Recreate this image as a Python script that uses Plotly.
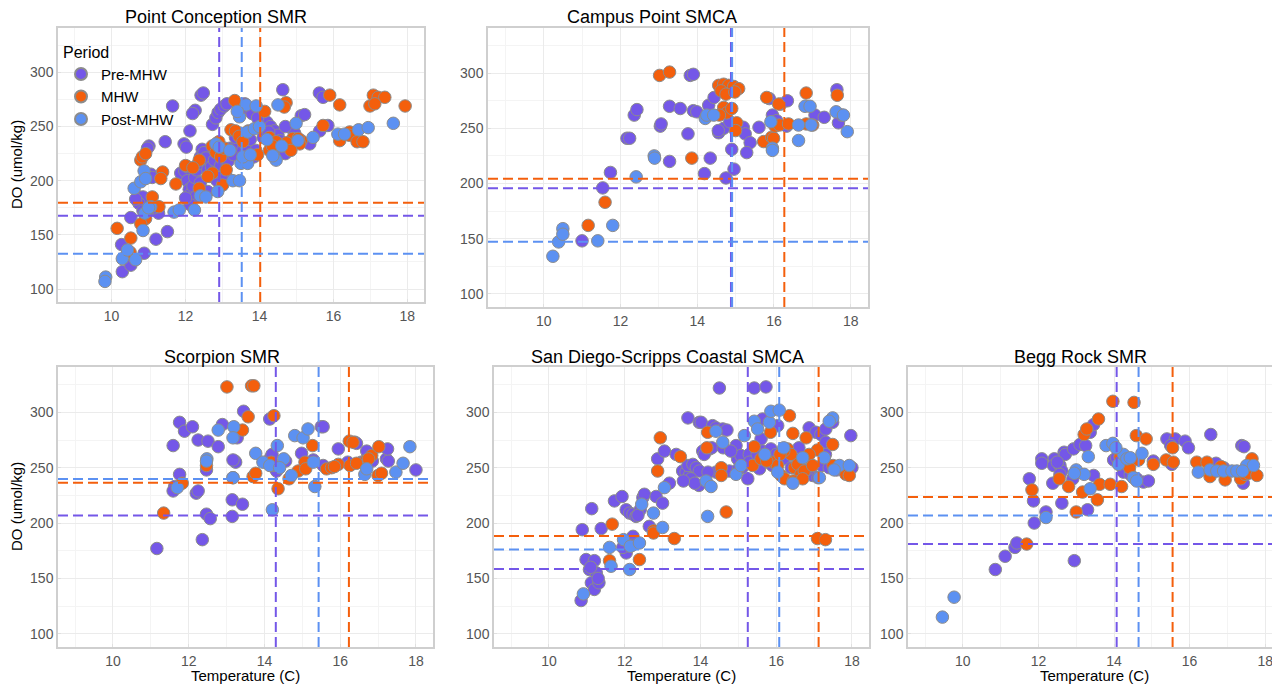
import plotly.graph_objects as go

# ---------------- data ----------------
SITES = ["Point Conception SMR", "Campus Point SMCA", "Scorpion SMR",
         "San Diego-Scripps Coastal SMCA", "Begg Rock SMR"]
PERIODS = ["Pre-MHW", "MHW", "Post-MHW"]
X_TICKS = [10, 12, 14, 16, 18]
Y_TICKS = [100, 150, 200, 250, 300]

PC_PRE_T = [11.65,12.42,12.48,12.26,12.19,12.12,11.45,11.01,10.97,12.73,
            12.82,12.88,12.95,13.05,13.12,11.96,12.02,11.87,11.98,12.05,
            12.10,12.15,12.20,12.25,12.30,12.35,12.40,12.45,12.50,12.55,
            12.60,12.65,12.70,12.78,12.85,12.90,12.95,13.00,13.08,13.15,
            13.20,13.30,13.40,13.55,13.65,13.75,13.85,12.28,12.12,12.00,
            14.63,15.62,15.72,15.85,15.13,15.22,15.36,15.63,14.20,14.30,
            14.40,14.50,14.60,14.70,14.80,14.88,14.95,11.06,10.74,10.85,
            10.52,11.20,11.51,10.27,10.29,10.52,10.88,11.27,10.74,10.85,
            11.10,13.60,13.70,13.80,13.95,14.10,14.55,13.35,13.45,12.40,
            12.60,13.00,13.10,14.40,11.15,10.95,10.65,12.05,14.25,14.70,
            13.90]
PC_PRE_DO = [269,279,281,265,262,246,236,232,230,252,
             258,263,266,269,271,234,231,207,209,200,
             192,188,195,203,210,216,222,229,226,221,
             210,204,213,219,200,208,214,220,225,218,
             230,224,234,228,232,238,222,185,178,184,
             284,281,277,251,260,261,234,246,254,250,
             246,242,226,225,232,248,244,206,185,185,
             166,146,153,141,116,122,133,170,179,172,
             203,271,266,262,258,240,237,240,244,198,
             190,196,204,222,175,170,183,213,245,250,
             228]
PC_MHW_T = [13.33,14.72,14.67,14.14,15.90,16.17,17.08,17.21,17.39,16.99,
            17.12,17.94,15.72,16.44,16.43,16.17,16.64,16.80,15.13,15.09,
            14.90,14.73,14.27,14.27,13.95,13.23,13.35,13.45,12.72,12.82,
            12.95,13.05,12.37,12.73,13.10,13.00,12.37,12.00,11.74,10.79,
            10.83,10.92,11.38,11.33,11.10,11.28,10.92,10.79,10.15,10.52,
            10.50,12.60,12.20,13.55,14.45,14.85,15.05,12.90,13.70,14.35]
PC_MHW_DO = [274,272,268,264,279,270,279,277,277,269,
             271,269,251,245,242,237,236,236,237,234,
             239,235,228,240,224,247,246,241,232,226,
             222,230,219,207,210,196,193,214,197,219,
             222,225,208,202,185,176,165,160,156,147,
             134,204,212,236,236,228,239,236,246,232]
PC_POST_T = [9.84,9.82,10.29,10.43,10.65,10.85,10.61,10.79,10.88,10.92,
             10.90,11.06,11.69,11.83,12.24,12.40,12.55,12.87,13.28,13.46,
             13.50,13.68,13.64,13.46,13.91,13.68,13.86,14.50,14.45,14.36,
             14.99,15.04,15.45,16.12,16.30,16.68,16.94,17.62,12.82,12.91,
             13.20,13.55,14.00,14.20,13.40,11.00,13.75,14.60]
PC_POST_DO = [111,107,128,136,127,154,193,199,209,202,
              170,176,171,173,173,186,185,190,200,200,
              216,216,270,259,269,245,248,270,219,223,
              253,237,240,243,243,247,249,253,234,231,
              228,222,250,238,264,175,224,232]

CP_PRE_T = [13.82,13.90,12.36,12.43,12.17,12.24,11.54,11.74,11.00,13.04,
            13.06,13.28,13.28,13.56,13.76,13.90,13.99,14.19,14.34,14.30,
            14.44,14.56,14.69,14.75,14.90,14.96,15.20,15.25,15.38,15.29,
            15.61,15.88,15.96,16.07,16.18,16.35,16.33,17.07,17.31,17.64,
            17.68,17.77,14.85,14.55]
CP_PRE_DO = [298,299,262,267,241,241,196,210,148,252,
             254,270,220,268,245,266,265,209,223,271,
             278,246,250,205,231,213,251,245,237,228,
             251,277,262,257,272,275,252,262,260,285,
             255,262,256,248]
CP_MHW_T = [13.02,13.28,13.86,11.60,11.16,14.56,14.69,14.82,14.95,15.08,
            14.62,14.75,14.98,14.69,14.77,14.90,14.58,15.03,15.00,15.73,
            15.94,15.99,15.81,16.12,16.03,16.14,16.38,16.84,16.84,17.01,
            17.65]
CP_MHW_DO = [298,301,223,183,162,289,290,289,288,286,
             284,281,283,269,264,268,262,255,248,238,
             242,241,278,272,252,253,254,282,254,253,
             280]
CP_POST_T = [10.24,10.39,10.50,10.50,11.41,11.80,12.41,12.88,12.89,14.21,
             14.25,14.43,15.92,15.96,15.96,16.64,16.64,16.81,16.94,16.97,
             17.62,17.81,17.91]
CP_POST_DO = [134,147,159,154,148,162,206,225,223,259,
              262,262,256,232,230,253,239,270,270,253,
              265,262,247]

SC_PRE_T = [11.16,12.36,12.47,12.57,11.76,11.89,12.10,11.59,12.25,12.51,
            12.78,12.89,11.76,11.63,11.59,12.20,12.25,13.15,13.15,13.42,
            13.17,13.22,13.24,13.28,13.45,14.14,14.16,14.27,14.32,14.56,
            14.98,15.50,15.55,15.29,15.95,16.20,16.39,16.43,16.70,16.56,
            16.85,17.22,17.27,17.25,18.00,14.20,14.22,12.47,13.17,15.55,
            16.65]
SC_PRE_DO = [177,185,208,204,291,283,287,270,275,274,
             269,289,244,233,229,227,229,221,206,217,
             241,256,255,277,301,294,259,250,247,256,
             263,287,287,257,267,255,273,272,265,255,
             256,258,256,267,248,262,252,248,257,252,
             256]
SC_MHW_T = [13.01,13.66,13.72,13.57,13.42,14.25,11.34,11.83,12.47,13.70,
            13.77,14.36,14.18,14.65,14.89,15.07,15.09,15.27,15.64,15.77,
            15.95,16.24,16.34,16.70,16.83,17.00,17.09,17.02,16.26,16.43,
            15.85,16.75]
SC_MHW_DO = [323,324,324,296,284,297,209,236,252,242,
             245,231,255,240,247,255,249,270,249,250,
             253,274,273,257,261,243,245,269,252,254,
             251,258]
SC_POST_T = [12.78,13.19,13.17,12.48,12.47,13.77,14.21,14.34,13.96,14.14,
             14.80,15.02,15.15,15.33,14.71,16.65,16.70,17.47,17.66,17.84,
             14.51,15.29,11.70,13.17,14.40]
SC_POST_DO = [284,287,277,258,256,263,212,270,255,252,
              279,277,285,233,243,244,249,246,254,269,
              258,255,232,241,250]

SD_PRE_T = [10.85,10.88,11.13,10.98,11.07,11.20,11.25,11.12,11.20,11.32,
            11.38,11.73,11.93,12.04,12.13,12.22,12.04,12.22,12.30,12.41,
            12.48,12.52,12.65,12.83,13.00,12.87,13.05,13.18,13.36,13.53,
            13.62,13.71,13.67,13.67,13.97,14.02,13.80,13.89,13.97,13.96,
            14.06,14.24,14.32,14.50,14.41,14.59,14.70,14.41,14.59,14.76,
            14.94,14.98,15.07,15.42,15.73,15.25,15.29,15.42,15.56,15.60,
            15.64,15.78,15.86,16.04,15.64,16.87,17.05,17.18,17.31,17.49,
            16.96,17.10,17.31,17.97,18.00,14.10,14.30,14.60,14.80,15.10,
            15.30,15.50,15.70,15.90,16.20,16.40,16.60,16.80,17.20,17.40,
            17.60,17.80,13.75,13.85,13.55,14.20,15.00,16.00,16.60,17.30,
            11.10,11.30,12.20,12.35,11.95]
SD_PRE_DO = [130,194,213,167,158,166,155,146,140,146,
             195,220,224,212,209,208,173,188,206,212,
             223,226,197,224,218,258,265,236,262,247,
             246,243,252,295,291,291,253,250,247,234,
             265,267,288,322,286,285,284,246,248,247,
             270,258,261,322,323,240,262,255,249,276,
             265,255,267,288,294,286,282,280,285,291,
             243,241,273,279,250,262,268,268,265,250,
             255,262,258,252,258,250,256,248,252,250,
             248,247,240,236,238,246,249,262,268,262,
             160,150,180,207,178]
SD_MHW_T = [11.67,11.60,12.39,12.94,12.87,12.76,12.76,13.31,13.47,14.19,
            14.17,14.68,14.55,14.55,15.42,15.85,16.35,16.44,16.79,17.09,
            17.49,17.09,17.30,15.91,16.04,16.13,16.22,16.30,16.39,16.48,
            16.57,16.65,16.74,16.87,16.96,17.84,17.93,15.38,16.20,16.45,
            15.60,17.50,16.10,16.70,15.75]
SD_MHW_DO = [199,166,167,277,247,193,191,186,260,282,
             268,210,250,243,269,282,297,281,277,266,
             271,186,185,255,252,243,240,267,262,250,
             253,244,247,262,252,244,243,252,265,238,
             258,252,262,240,256]
SD_POST_T = [10.91,11.60,11.64,11.97,12.13,12.15,12.39,12.45,12.76,13.00,
             13.05,14.19,14.15,14.28,14.41,14.59,14.94,15.07,15.16,15.42,
             15.51,15.82,15.86,16.08,16.04,16.44,16.70,17.14,17.27,17.49,
             17.40,17.67,17.93,17.53,15.70,16.20]
SD_POST_DO = [136,178,161,185,158,179,182,217,209,196,
              232,206,238,233,283,273,244,252,279,292,
              285,291,301,302,246,236,259,241,259,295,
              292,252,252,248,262,268]

BR_PRE_T = [10.86,11.12,11.38,11.43,11.76,11.89,11.87,12.09,12.09,12.38,
            12.42,12.40,12.57,12.62,12.57,12.68,12.71,12.62,12.91,12.93,
            12.95,13.10,13.37,13.46,13.30,13.46,13.99,14.07,14.25,14.43,
            14.60,14.78,14.91,15.04,15.40,15.53,15.62,15.88,15.97,16.56,
            16.70,16.90,17.38,17.44,17.42,12.20,13.25,12.50,15.50]
BR_PRE_DO = [158,170,178,182,240,200,220,258,254,236,
             258,252,252,247,244,264,262,218,240,267,
             166,271,282,289,212,243,257,259,246,244,
             240,237,238,256,276,253,276,274,268,280,
             254,250,270,269,236,210,270,255,270]
BR_MHW_T = [11.69,11.83,12.80,13.00,13.17,13.21,13.28,13.59,13.56,13.62,
            13.90,13.97,14.16,14.20,14.41,14.53,14.59,14.65,14.85,15.04,
            15.38,15.57,16.19,16.46,16.54,16.94,16.83,17.35,17.47,17.56,
            17.65,17.78,12.55,15.55]
BR_MHW_DO = [181,230,233,210,228,280,285,294,221,235,
             235,310,260,233,250,309,279,257,276,253,
             257,255,255,255,242,239,251,240,244,245,
             258,243,240,268]
BR_POST_T = [9.46,9.77,12.20,13.00,13.21,13.32,13.37,13.79,13.97,14.12,
             14.25,14.34,14.43,14.51,14.74,16.23,16.54,16.72,16.90,17.12,
             17.25,17.51,17.69,12.95,14.05,14.60,17.40]
BR_POST_DO = [115,133,205,248,244,260,231,270,272,253,
              262,258,259,241,263,246,248,247,247,247,
              247,252,252,245,268,238,247]

# thresholds per site (same order as SITES)
TEMP_THRESH_PRE = [12.91, 14.88, 14.30, 15.25, 14.07]
TEMP_THRESH_MHW = [14.02, 16.27, 16.23, 17.12, 15.55]
TEMP_THRESH_POST = [13.52, 14.91, 15.43, 16.08, 14.65]
DO_THRESH_PRE = [167.7, 195.6, 206.9, 158.4, 181.0]
DO_THRESH_MHW = [179.7, 204.4, 236.4, 188.3, 223.5]
DO_THRESH_POST = [132.6, 147.2, 239.8, 176.0, 206.9]

# ---------------- styling ----------------
COLORS = {"Pre-MHW": "#7457E8", "MHW": "#F45F0C", "Post-MHW": "#5C91F2"}
FONT = "Liberation Sans, Arial, sans-serif"
W, H = 1280, 688
OFF = 8  # page body margin; positions below are given in page pixels


def px(x):
    return (x - OFF) / W


def py(y):
    return 1 - (y - OFF) / H


series = [
    [(PC_PRE_T, PC_PRE_DO), (PC_MHW_T, PC_MHW_DO), (PC_POST_T, PC_POST_DO)],
    [(CP_PRE_T, CP_PRE_DO), (CP_MHW_T, CP_MHW_DO), (CP_POST_T, CP_POST_DO)],
    [(SC_PRE_T, SC_PRE_DO), (SC_MHW_T, SC_MHW_DO), (SC_POST_T, SC_POST_DO)],
    [(SD_PRE_T, SD_PRE_DO), (SD_MHW_T, SD_MHW_DO), (SD_POST_T, SD_POST_DO)],
    [(BR_PRE_T, BR_PRE_DO), (BR_MHW_T, BR_MHW_DO), (BR_POST_T, BR_POST_DO)],
]
temp_th = [TEMP_THRESH_PRE, TEMP_THRESH_MHW, TEMP_THRESH_POST]
do_th = [DO_THRESH_PRE, DO_THRESH_MHW, DO_THRESH_POST]

# panel boxes in page pixels: (left, right, top, bottom)
boxes = [(58, 424, 28, 302), (488, 868, 28, 307),
         (58, 433, 367, 647), (494, 869, 367, 647), (908, 1288, 367, 647)]
title_pos = [(216, 17), (652, 17), (222, 357), (667, 357), (1080, 357)]

fig = go.Figure()
layout = dict(width=W, height=H, margin=dict(l=0, r=0, t=0, b=0),
              paper_bgcolor="white", plot_bgcolor="white",
              font=dict(family=FONT), showlegend=True)

ann = []
for i, (l, r, t, b) in enumerate(boxes):
    n = "" if i == 0 else str(i + 1)
    r_eff = min(r, W + OFF)
    xr = [8.55, 8.55 + (r_eff - l) / 37.8] if i == 4 else [8.55, 18.45]
    common = dict(showgrid=True, gridcolor="#EBEBEB", gridwidth=1,
                  showline=True, linecolor="#CFCFCF", linewidth=1.5, mirror=True,
                  ticks="inside", ticklen=3, tickcolor="#E0E0E0",
                  tickfont=dict(size=14, color="#555555", family=FONT),
                  zeroline=False, automargin=False)
    layout["xaxis" + n] = dict(
        domain=[px(l), min(px(r_eff), 1.0)], anchor="y" + n, range=xr,
        tickvals=X_TICKS,
        minor=dict(tickvals=[9, 11, 13, 15, 17], showgrid=True,
                   gridcolor="#F4F4F4", gridwidth=1),
        **common)
    layout["yaxis" + n] = dict(
        domain=[py(b), py(t)], anchor="x" + n, range=[88, 341],
        tickvals=Y_TICKS,
        minor=dict(tickvals=[125, 175, 225, 275, 325], showgrid=True,
                   gridcolor="#F4F4F4", gridwidth=1),
        **common)

    for j, period in enumerate(PERIODS):
        tx, dy = series[i][j]
        fig.add_trace(go.Scatter(
            x=tx, y=dy, mode="markers", name=period,
            legendgroup=period, showlegend=(i == 0),
            xaxis="x" + n, yaxis="y" + n,
            marker=dict(size=12.5, color=COLORS[period],
                        line=dict(color="#8C8C8C", width=1))))

    for j, period in enumerate(PERIODS):
        dash = dict(color=COLORS[period], width=2, dash="10px,5px")
        fig.add_shape(type="line", xref="x" + n, yref="y" + n + " domain",
                      x0=temp_th[j][i], x1=temp_th[j][i], y0=0, y1=1, line=dash)
        fig.add_shape(type="line", xref="x" + n + " domain", yref="y" + n,
                      x0=0, x1=1, y0=do_th[j][i], y1=do_th[j][i], line=dash)

    cx, cy = title_pos[i]
    ann.append(dict(text=SITES[i], x=px(cx), y=py(cy), xref="paper",
                    yref="paper", showarrow=False, xanchor="center",
                    yanchor="middle", font=dict(size=18, color="black", family=FONT)))
    if i >= 2:
        ann.append(dict(text="Temperature (C)", x=px((l + min(r, 1280)) / 2),
                        y=py(675), xref="paper", yref="paper",
                        showarrow=False, xanchor="center", yanchor="middle",
                        font=dict(size=15, color="black", family=FONT)))
    if i in (0, 2):
        ann.append(dict(text="DO (umol/kg)", x=px(17), y=py((t + b) / 2),
                        xref="paper", yref="paper", showarrow=False,
                        textangle=-90, xanchor="center", yanchor="middle",
                        font=dict(size=15, color="black", family=FONT)))

layout["annotations"] = ann
layout["legend"] = dict(x=px(61), y=py(37), xanchor="left", yanchor="top",
                        bgcolor="rgba(0,0,0,0)", borderwidth=0,
                        title=dict(text="Period", font=dict(size=16, color="black")),
                        font=dict(size=15, color="black", family=FONT),
                        itemsizing="constant", itemwidth=30, tracegroupgap=0)
fig.update_layout(**layout)
fig.write_html("out.html")
